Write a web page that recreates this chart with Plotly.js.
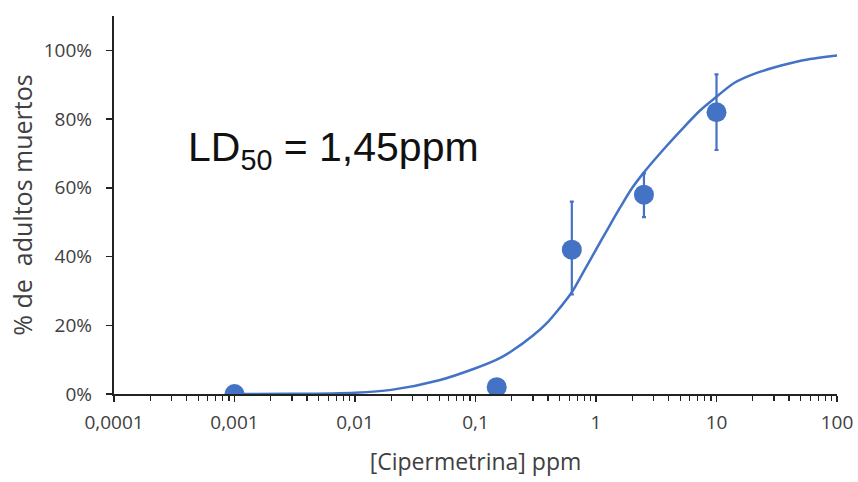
<!DOCTYPE html>
<html>
<head>
<meta charset="utf-8">
<script src="https://cdn.plot.ly/plotly-3.0.1.min.js"></script>
<style>html,body{margin:0;padding:0;background:#fff;}#chart{width:858px;height:482px;}</style>
</head>
<body>
<div id="chart"></div>
<script>
// Observed data
const conc = [0.001, 0.15, 0.63, 2.5, 10];
const mortality = [0, 0.02, 0.42, 0.58, 0.82];
const errUp = [0, 0, 0.14, 0.062, 0.11];
const errDown = [0, 0, 0.13, 0.065, 0.11];

// Fitted curve
const curveX = [0.001, 0.003, 0.01, 0.02, 0.05, 0.1, 0.15, 0.2, 0.3, 0.4, 0.5, 0.63, 0.8, 1, 1.25, 1.6, 2, 2.5, 3.6, 5, 7.3, 10, 14, 20, 30, 50, 100];
const curveY = [0, 0.0005, 0.004, 0.012, 0.04, 0.075, 0.10, 0.125, 0.17, 0.21, 0.25, 0.296, 0.36, 0.42, 0.48, 0.545, 0.60, 0.645, 0.71, 0.765, 0.825, 0.865, 0.905, 0.93, 0.95, 0.97, 0.985];

// Tick labels
const xTickVals = [0.0001, 0.001, 0.01, 0.1, 1, 10, 100];
const xTickText = ['0,0001', '0,001', '0,01', '0,1', '1', '10', '100'];
const yTickVals = [0, 0.2, 0.4, 0.6, 0.8, 1.0];
const yTickText = ['0%', '20%', '40%', '60%', '80%', '100%'];

const blue = '#4472C4';
const tickFont = {size: 19, color: '#404040', family: 'Open Sans, Liberation Sans, sans-serif'};

const traces = [
  {
    x: curveX, y: curveY, type: 'scatter', mode: 'lines',
    line: {color: blue, width: 2.5, shape: 'spline', smoothing: 0.8},
    hoverinfo: 'skip', showlegend: false
  },
  {
    x: conc, y: mortality, type: 'scatter', mode: 'markers',
    marker: {color: blue, size: 20},
    error_y: {type: 'data', symmetric: false, array: errUp, arrayminus: errDown,
              color: blue, thickness: 2.2, width: 2, visible: true},
    showlegend: false
  }
];

const layout = {
  width: 858, height: 482,
  margin: {l: 114, r: 21, t: 16, b: 88},
  paper_bgcolor: '#fff', plot_bgcolor: '#fff',
  font: {family: 'Open Sans, Liberation Sans, sans-serif', color: '#404040'},
  xaxis: {
    type: 'log', range: [-4, 2],
    tickvals: xTickVals, ticktext: xTickText,
    ticks: 'outside', ticklen: 6, tickwidth: 1.5, tickcolor: '#222',
    ticklabelstandoff: 4,
    minor: {ticks: 'outside', ticklen: 5, tickwidth: 1.3, tickcolor: '#222', dtick: 'D1'},
    showline: true, linecolor: '#222', linewidth: 2.2,
    showgrid: false, zeroline: false,
    tickfont: tickFont,
    title: {text: '[Cipermetrina] ppm', font: {size: 23, color: '#404040', family: 'Open Sans, Liberation Sans, sans-serif'}, standoff: 20}
  },
  yaxis: {
    range: [0, 1.1],
    tickvals: yTickVals, ticktext: yTickText,
    ticks: 'outside', ticklen: 6, tickwidth: 1.5, tickcolor: '#222',
    ticklabelstandoff: 10,
    showline: true, linecolor: '#222', linewidth: 2.2,
    showgrid: false, zeroline: false,
    tickfont: tickFont,
    title: {text: '% de\u00a0 adultos muertos', font: {size: 25, color: '#404040', family: 'Open Sans, Liberation Sans, sans-serif'}, standoff: 4}
  },
  annotations: [{
    xref: 'paper', yref: 'paper', x: (333 - 114) / 723, y: (394 - 150) / 378,
    xanchor: 'center', yanchor: 'middle', showarrow: false,
    text: 'LD<sub>50</sub> = 1,45ppm',
    font: {size: 41, color: '#111', family: 'Liberation Sans, Arial, sans-serif'}
  }]
};

Plotly.newPlot('chart', traces, layout, {displayModeBar: false, staticPlot: true});
</script>
</body>
</html>
